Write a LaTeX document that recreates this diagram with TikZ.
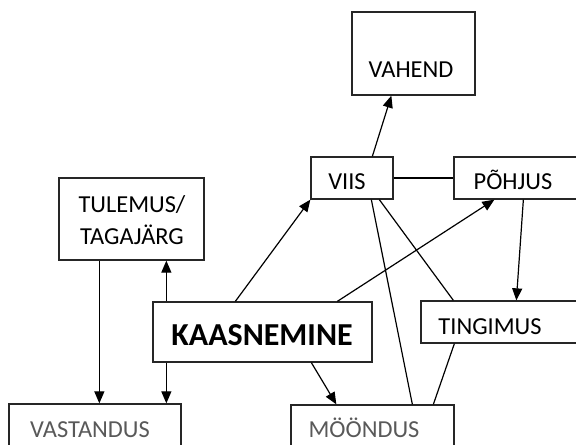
\documentclass[tikz,border=0pt]{standalone}
\usepackage{fontspec}
\setmainfont{Carlito}
\usetikzlibrary{arrows.meta,calc,fit}
\begin{document}
\begin{tikzpicture}[x=0.5pt,y=-0.5pt,
  box/.style={draw=black!85,line width=0.65pt,inner sep=0pt,rectangle},
  lbl/.style={inner sep=0pt,anchor=base,font=\fontsize{12.2}{14}\selectfont},
  glbl/.style={lbl,text=black!65},
  con/.style={draw=black,line width=0.6pt},
  arr/.style={con,-{Triangle[length=6pt,width=5pt]}}]
\useasboundingbox (0,0) rectangle (576,444);
\clip (0,0) rectangle (576,444);
% boxes
\node[box,fit={(352,12) (475,95)}] (vahend) {};
\node[box,fit={(311,157) (393,199)}] (viis) {};
\node[box,fit={(454,157) (600,199)}] (pohjus) {};
\node[box,fit={(59,178) (204,260)}] (tulemus) {};
\node[box,fit={(153,302) (372,362)}] (kaas) {};
\node[box,fit={(421,301) (600,343)}] (tingimus) {};
\node[box,fit={(9,404) (181,470)}] (vast) {};
\node[box,fit={(291,405) (454,470)}] (moondus) {};
% labels
\node[lbl] (tvahend) at (411,77) {VAHEND};
\node[lbl] (tviis) at (347,189) {VIIS};
\node[lbl] (tpohjus) at (513,189) {PÕHJUS};
\node[lbl] (ttul1) at (132,212) {TULEMUS/};
\node[lbl] (ttul2) at (132,244) {TAGAJÄRG};
\node[lbl,font=\fontsize{16}{18}\selectfont\bfseries] (tkaas) at (262,345) {KAASNEMINE};
\node[lbl] (tting) at (490,334) {TINGIMUS};
\node[glbl] (tvast) at (90,437) {VASTANDUS};
\node[glbl] (tmoon) at (364,437) {MÖÖNDUS};
% connectors
\draw[arr] ($(viis.north west)+(62,0)$) -- ($(vahend.south west)+(40,0)$);
\draw[con] (viis.east) -- (pohjus.west);
\draw[con] ($(viis.south west)+(61,0)$) -- ($(moondus.north west)+(122,0)$);
\draw[con] ($(viis.south west)+(69,0)$) -- ($(tingimus.north west)+(33,0)$);
\draw[con] ($(tingimus.south west)+(34,0)$) -- ($(moondus.north west)+(143,0)$);
\draw[arr] ($(pohjus.south west)+(70,0)$) -- ($(tingimus.north west)+(96,0)$);
\draw[arr] ($(kaas.north west)+(83,0)$) -- (viis.south west);
\draw[arr] ($(kaas.north west)+(185,0)$) -- ($(pohjus.south west)+(41,0)$);
\draw[arr] ($(kaas.north west)+(14,0)$) -- ($(tulemus.south west)+(108,0)$);
\draw[arr] ($(kaas.south west)+(14,0)$) -- ($(vast.north west)+(158,0)$);
\draw[arr] ($(kaas.south west)+(159,0)$) -- ($(moondus.north west)+(46,0)$);
\draw[arr] ($(tulemus.south west)+(41,0)$) -- ($(vast.north west)+(91,0)$);
\end{tikzpicture}
\end{document}
